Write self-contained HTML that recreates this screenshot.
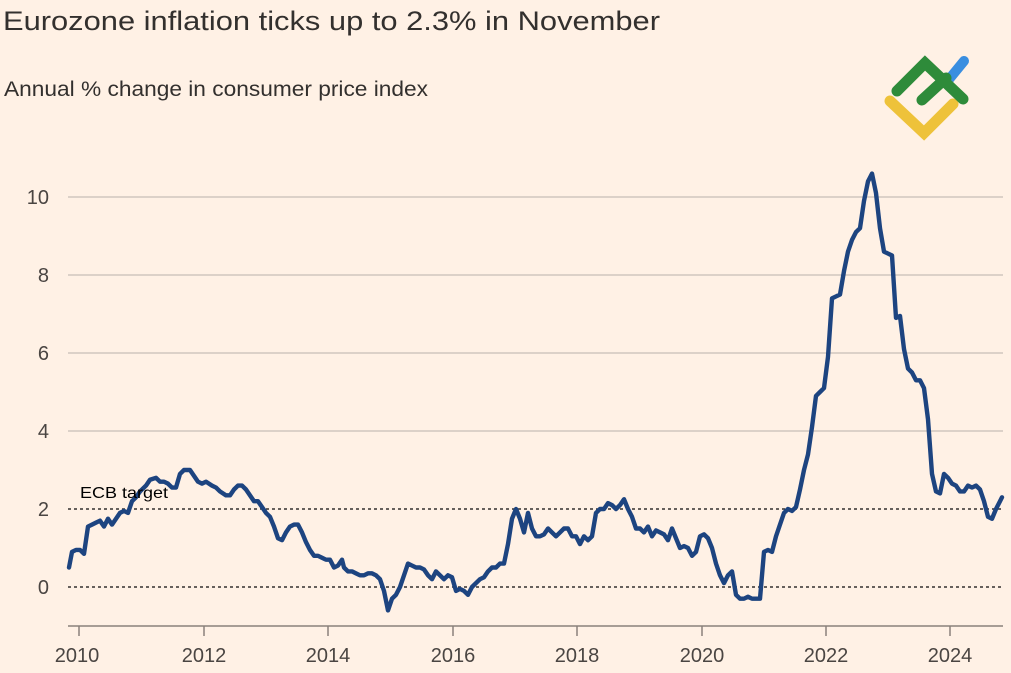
<!DOCTYPE html>
<html><head><meta charset="utf-8"><style>
body{margin:0;background:#fff1e5;}
svg{display:block;font-family:"Liberation Sans",sans-serif;}
</style></head><body>
<svg width="1011" height="673" viewBox="0 0 1011 673">
<rect width="1011" height="673" fill="#fff1e5"/>
<text x="3" y="30" font-size="27" fill="#33302e" textLength="657" lengthAdjust="spacingAndGlyphs">Eurozone inflation ticks up to 2.3% in November</text>
<text x="4" y="96" font-size="21" fill="#33302e" textLength="424" lengthAdjust="spacingAndGlyphs">Annual % change in consumer price index</text>
<g stroke="#c8beb6" stroke-width="1.3">
<line x1="68" x2="1003" y1="197" y2="197"/>
<line x1="68" x2="1003" y1="275" y2="275"/>
<line x1="68" x2="1003" y1="353" y2="353"/>
<line x1="68" x2="1003" y1="431" y2="431"/>
</g>
<g stroke="#33302e" stroke-width="1.6" stroke-dasharray="3,3">
<line x1="68" x2="1003" y1="509" y2="509"/>
<line x1="68" x2="1003" y1="587" y2="587"/>
</g>
<line x1="68" x2="1003" y1="626" y2="626" stroke="#8a817b" stroke-width="1.5"/>
<g stroke="#8a817b" stroke-width="1.5">
<line x1="79" x2="79" y1="626" y2="636"/><line x1="204" x2="204" y1="626" y2="636"/>
<line x1="328" x2="328" y1="626" y2="636"/><line x1="453" x2="453" y1="626" y2="636"/>
<line x1="577" x2="577" y1="626" y2="636"/><line x1="702" x2="702" y1="626" y2="636"/>
<line x1="826" x2="826" y1="626" y2="636"/><line x1="950" x2="950" y1="626" y2="636"/>
</g>
<g font-size="20" fill="#4a4542" text-anchor="end">
<text x="49" y="204">10</text><text x="49" y="282">8</text><text x="49" y="360">6</text>
<text x="49" y="438">4</text><text x="49" y="516">2</text><text x="49" y="594">0</text>
</g>
<g font-size="20" fill="#4a4542" text-anchor="middle">
<text x="77" y="662">2010</text><text x="204" y="662">2012</text><text x="328" y="662">2014</text>
<text x="453" y="662">2016</text><text x="577" y="662">2018</text><text x="702" y="662">2020</text>
<text x="826" y="662">2022</text><text x="950" y="662">2024</text>
</g>
<g transform="translate(0,587) scale(1,-39)">
<polyline fill="none" stroke="#1d4480" stroke-width="4.4" stroke-linejoin="round" stroke-linecap="round" vector-effect="non-scaling-stroke" points="69,0.5 72,0.9 76,0.95 80,0.95 84,0.85 88,1.55 92,1.6 96,1.65 100,1.7 104,1.55 108,1.75 112,1.6 116,1.75 120,1.9 124,1.95 128,1.9 132,2.2 136,2.3 140,2.45 146,2.6 150,2.75 156,2.8 160,2.7 164,2.7 168,2.65 172,2.55 176,2.55 180,2.9 184,3.0 190,3.0 194,2.85 198,2.7 202,2.65 206,2.7 212,2.6 216,2.55 220,2.45 226,2.35 230,2.35 234,2.5 238,2.6 242,2.6 246,2.5 250,2.35 254,2.2 258,2.2 262,2.05 266,1.9 270,1.8 274,1.55 278,1.25 282,1.2 286,1.4 290,1.55 294,1.6 298,1.6 302,1.4 306,1.15 310,0.95 314,0.8 318,0.8 322,0.75 326,0.7 330,0.7 334,0.5 338,0.55 342,0.7 344,0.5 348,0.4 352,0.4 356,0.35 360,0.3 364,0.3 368,0.35 372,0.35 376,0.3 380,0.2 384,-0.1 388,-0.6 392,-0.3 396,-0.2 400,0.0 404,0.3 408,0.6 412,0.55 416,0.5 420,0.5 424,0.45 428,0.3 432,0.2 436,0.4 440,0.3 444,0.2 448,0.3 452,0.25 456,-0.1 460,-0.05 464,-0.1 468,-0.2 472,0.0 476,0.1 480,0.2 484,0.25 488,0.4 492,0.5 496,0.5 500,0.6 504,0.6 508,1.1 512,1.75 516,2.0 520,1.75 524,1.4 528,1.9 532,1.5 536,1.3 540,1.3 544,1.35 548,1.5 552,1.4 556,1.3 560,1.4 564,1.5 568,1.5 572,1.3 576,1.3 580,1.1 584,1.3 588,1.2 592,1.3 596,1.9 600,2.0 604,2.0 608,2.15 612,2.1 616,2.0 620,2.1 624,2.25 628,2.0 632,1.8 636,1.5 640,1.5 644,1.4 648,1.55 652,1.3 656,1.45 660,1.4 664,1.35 668,1.2 672,1.5 676,1.25 680,1.0 684,1.05 688,1.0 692,0.8 696,0.9 700,1.3 704,1.35 708,1.25 712,1.0 716,0.6 720,0.3 724,0.1 728,0.3 732,0.4 736,-0.2 740,-0.3 744,-0.3 748,-0.25 752,-0.3 756,-0.3 760,-0.3 764,0.9 768,0.95 772,0.9 776,1.3 780,1.6 784,1.9 788,2.0 792,1.95 796,2.05 800,2.5 804,3.0 808,3.4 812,4.1 816,4.9 820,5.0 824,5.1 828,5.9 832,7.4 836,7.45 840,7.5 844,8.1 848,8.6 852,8.9 856,9.1 860,9.2 864,9.9 868,10.4 872,10.6 876,10.1 880,9.2 884,8.6 888,8.55 892,8.5 896,6.9 900,6.95 904,6.1 908,5.6 912,5.5 916,5.3 920,5.3 924,5.1 928,4.3 932,2.9 936,2.45 940,2.4 944,2.9 948,2.8 952,2.65 956,2.6 960,2.45 964,2.45 968,2.6 972,2.55 976,2.6 980,2.5 984,2.2 988,1.8 992,1.75 996,2.0 1000,2.2 1002,2.3"/>
</g>
<text x="80" y="498" font-size="16" fill="#000" textLength="88" lengthAdjust="spacingAndGlyphs">ECB target</text>
<g stroke-linecap="round" fill="none">
<line x1="946" y1="83" x2="964" y2="61" stroke="#3a8ee0" stroke-width="10"/>
<polyline points="890,101 924,133 953,104" stroke="#eec23a" stroke-width="11"/>
<polyline points="897,91 925,63 963,99" stroke="#2e8b3a" stroke-width="11"/>
<line x1="922" y1="100" x2="946" y2="78" stroke="#2e8b3a" stroke-width="11"/>
</g>
</svg>
</body></html>
